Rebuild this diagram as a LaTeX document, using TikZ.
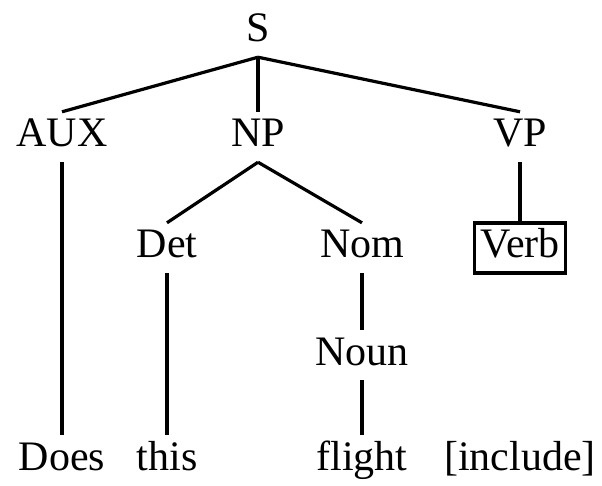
\documentclass[tikz,border=0pt]{standalone}
\usepackage{fontspec}
\setmainfont{Liberation Serif}

\begin{document}
\begin{tikzpicture}[x=1pt,y=1pt,
        cat/.style={anchor=base, inner sep=6pt, text height=29pt, text depth=9pt,
                    font=\fontsize{42}{50}\selectfont},
        branch/.style={line width=3.2pt}]
            \useasboundingbox (0,0) rectangle (602,485);
            % categories
            \node[cat] (S)    at (258,443) {S};
            \node[cat] (AUX)  at (62,338)  {AUX};
            \node[cat] (NP)   at (258,338) {NP};
            \node[cat] (VP)   at (520,338) {VP};
            \node[cat] (Det)  at (167,227) {Det};
            \node[cat] (Nom)  at (362,227) {Nom};
            \node[cat, draw, line width=3.2pt] (Verb) at (520,227) {Verb};
            \node[cat] (Noun) at (362,120) {Noun};
            % words
            \node[cat] (does)    at (62,15)  {Does};
            \node[cat] (this)    at (167,15) {this};
            \node[cat] (flight)  at (362,15) {flight};
            \node[cat] (include) at (520,15) {[include]};
            % branches
            \draw[branch] (S.south) -- (AUX.north);
            \draw[branch] (S.south) -- (NP.north);
            \draw[branch] (S.south) -- (VP.north);
            \draw[branch] (NP.south) -- (Det.north);
            \draw[branch] (NP.south) -- (Nom.north);
            \draw[branch] (VP.south) -- (Verb.north);
            \draw[branch] (Nom.south) -- (Noun.north);
            \draw[branch] (AUX.south) -- (does.north);
            \draw[branch] (Det.south) -- (this.north);
            \draw[branch] (Noun.south) -- (flight.north);
        \end{tikzpicture}
\end{document}
